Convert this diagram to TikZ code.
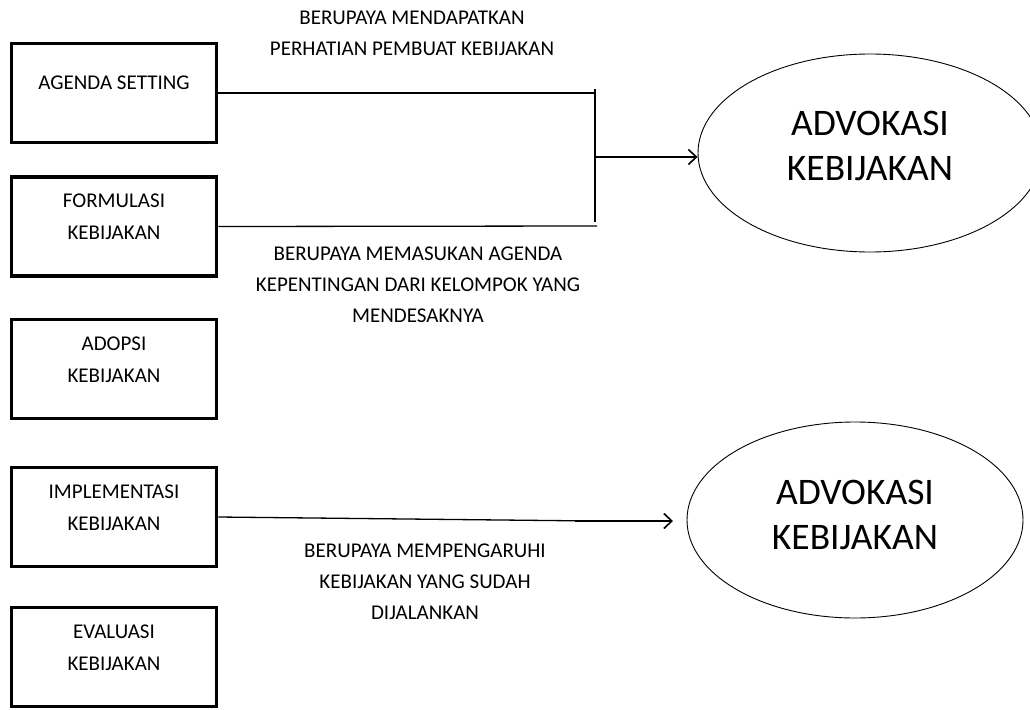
\documentclass[tikz,border=0pt]{standalone}
\usepackage{fontspec}
\setmainfont{Carlito}
\usetikzlibrary{shapes.geometric,arrows.meta}
\begin{document}
\begin{tikzpicture}[x=1pt,y=-1pt,
  stagebox/.style={draw,line width=3.5pt,minimum width=205pt,minimum height=99pt,inner sep=0pt},
  stagetext/.style={align=center,font=\fontsize{21}{32}\selectfont,inner sep=0pt},
  notetext/.style={align=center,font=\fontsize{21}{31}\selectfont,inner sep=0pt},
  advbox/.style={draw,ellipse,line width=0.9pt,inner sep=0pt},
  advtext/.style={align=center,font=\fontsize{37.5}{45}\selectfont,inner sep=0pt},
  link/.style={line width=1.3pt},
  arrow/.style={line width=1.6pt,-{Straight Barb[length=8pt,width=15pt,line width=1.6pt]}}]
\useasboundingbox (0,0) rectangle (1030,709);
\node[stagebox] (agenda) at (114,93) {};
\node[stagetext] (agendatext) at ([yshift=10pt]agenda.center) {AGENDA SETTING};
\node[stagebox] (formulasi) at (114,226.5) {};
\node[stagetext] (formulasitext) at ([yshift=10pt]formulasi.center) {FORMULASI\\KEBIJAKAN};
\node[stagebox] (adopsi) at (114,369) {};
\node[stagetext] (adopsitext) at ([yshift=9pt]adopsi.center) {ADOPSI\\KEBIJAKAN};
\node[stagebox] (implementasi) at (114,517) {};
\node[stagetext] (implementasitext) at ([yshift=9pt]implementasi.center) {IMPLEMENTASI\\KEBIJAKAN};
\node[stagebox] (evaluasi) at (114,657) {};
\node[stagetext] (evaluasitext) at ([yshift=9pt]evaluasi.center) {EVALUASI\\KEBIJAKAN};
\node[advbox,minimum width=344pt,minimum height=198pt] (advatas) at (870,153) {};
\node[advtext] (advatastext) at ([yshift=7.5pt]advatas.center) {ADVOKASI\\KEBIJAKAN};
\node[advbox,minimum width=336pt,minimum height=196pt] (advbawah) at (855,520) {};
\node[advtext] (advbawahtext) at ([yshift=5pt]advbawah.center) {ADVOKASI\\KEBIJAKAN};
\node[notetext] (notatas) at (412,33.5) {BERUPAYA MENDAPATKAN\\PERHATIAN PEMBUAT KEBIJAKAN};
\node[notetext] (notformulasi) at (418,285) {BERUPAYA MEMASUKAN AGENDA\\KEPENTINGAN DARI KELOMPOK YANG\\MENDESAKNYA};
\node[notetext] (notimplementasi) at (425,582) {BERUPAYA MEMPENGARUHI\\KEBIJAKAN YANG SUDAH\\DIJALANKAN};
\coordinate (bartop) at (595,89);
\coordinate (barbot) at (595,222);
\coordinate (barmid) at (595,157);
\coordinate (atasend) at (595,93);
\coordinate (formend) at (597,226);
\coordinate (implend) at (595,521);
\coordinate (implstub) at (575,521);
\coordinate (impltip) at (673,521);
\draw[link] (agenda.east) -- (atasend);
\draw[link] (formulasi.east) -- (formend);
\draw[link] (bartop) -- (barbot);
\draw[arrow] (barmid) -- (barmid -| advatas.west);
\draw[link] (implementasi.east) -- (implend);
\draw[line width=2.2pt] (implstub) -- (implend);
\draw[arrow] (implend) -- (impltip);
\end{tikzpicture}
\end{document}
